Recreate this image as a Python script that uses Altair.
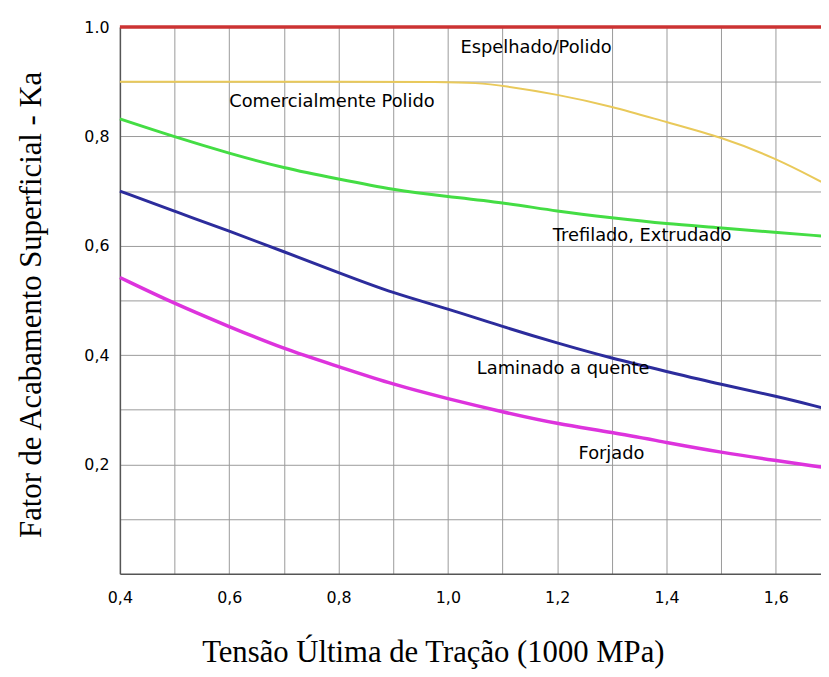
import altair as alt
import pandas as pd

# ---- data ----
series_names = ["Espelhado/Polido", "Comercialmente Polido", "Trefilado, Extrudado",
                "Laminado a quente", "Forjado"]

x_red = [0.4, 1.0, 1.683]
y_red = [1.0, 1.0, 1.0]

x_yellow = [0.4, 0.6, 0.8, 1.0, 1.05, 1.1, 1.2, 1.3, 1.4, 1.5, 1.6, 1.683]
y_yellow = [0.9, 0.9, 0.9, 0.9, 0.898, 0.893, 0.877, 0.855, 0.826, 0.799, 0.76, 0.717]

x_green = [0.4, 0.5, 0.6, 0.7, 0.8, 0.9, 1.0, 1.1, 1.2, 1.3, 1.4, 1.5, 1.6, 1.683]
y_green = [0.832, 0.799, 0.769, 0.742, 0.722, 0.702, 0.690, 0.679, 0.663, 0.651,
           0.640, 0.633, 0.624, 0.618]

x_blue = [0.4, 0.5, 0.6, 0.7, 0.8, 0.9, 1.0, 1.1, 1.2, 1.3, 1.4, 1.5, 1.6, 1.683]
y_blue = [0.700, 0.663, 0.627, 0.589, 0.551, 0.513, 0.485, 0.452, 0.422, 0.394,
          0.370, 0.346, 0.325, 0.304]

x_mag = [0.4, 0.5, 0.6, 0.7, 0.8, 0.9, 1.0, 1.1, 1.2, 1.3, 1.4, 1.5, 1.6, 1.683]
y_mag = [0.542, 0.494, 0.452, 0.411, 0.379, 0.346, 0.320, 0.296, 0.274, 0.259,
         0.240, 0.222, 0.207, 0.195]

colors = ["#cc3333", "#e9c95a", "#44dd44", "#2c2c9c", "#dd33dd"]
widths = [3.5, 2, 3, 3, 3.5]

label_x = [1.023, 0.600, 1.192, 1.053, 1.239]
label_y = [0.962, 0.862, 0.618, 0.3745, 0.219]

x_grid = [0.4, 0.5, 0.6, 0.7, 0.8, 0.9, 1.0, 1.1, 1.2, 1.3, 1.4, 1.5, 1.6]
y_grid = [0.1, 0.2, 0.3, 0.4, 0.5, 0.6, 0.7, 0.8, 0.9, 1.0]

# ---- tables ----
all_x = [x_red, x_yellow, x_green, x_blue, x_mag]
all_y = [y_red, y_yellow, y_green, y_blue, y_mag]
labels_df = pd.DataFrame({"text": series_names, "x": label_x, "y": label_y})

xscale = alt.Scale(domain=[0.4, 1.6826], nice=False, zero=False)
yscale = alt.Scale(domain=[0, 1.0], nice=False, zero=True)

x_axis = alt.Axis(
    values=x_grid,
    labelExpr="round(datum.value*10) % 2 == 0 ? replace(format(datum.value, '.1f'), '.', ',') : ''",
    grid=True, gridColor="#9a9a9a", gridWidth=1, ticks=False,
    domainColor="#555555", domainWidth=1.5,
    labelFont="DejaVu Sans", labelFontSize=16, labelColor="#000000", labelPadding=16,
    labelFlush=False,
    title="Tensão Última de Tração (1000 MPa)",
    titleFont="Liberation Serif", titleFontSize=31, titleFontWeight="normal",
    titleColor="#000000", titleX=316, titleY=80, titleAlign="center",
    titleBaseline="middle", titleAnchor="middle",
)
y_axis = alt.Axis(
    values=y_grid,
    labelExpr="datum.value == 1 ? '1.0' : (round(datum.value*10) % 2 == 0 ? replace(format(datum.value, '.1f'), '.', ',') : '')",
    grid=True, gridColor="#9a9a9a", gridWidth=1, ticks=False,
    domainColor="#555555", domainWidth=1.5,
    labelFont="DejaVu Sans", labelFontSize=16, labelColor="#000000", labelPadding=11,
    labelFlush=False,
    title="Fator de Acabamento Superficial - Ka",
    titleFont="Liberation Serif", titleFontSize=31, titleFontWeight="normal",
    titleColor="#000000", titleX=-89, titleY=280, titleAngle=270,
    titleAlign="center", titleBaseline="middle", titleAnchor="middle",
)

X = alt.X("x:Q", scale=xscale, axis=x_axis)
Y = alt.Y("y:Q", scale=yscale, axis=y_axis)

layers = []
for i, (name, xs, ys) in enumerate(zip(series_names, all_x, all_y)):
    d = pd.DataFrame({"x": xs, "y": ys, "series": name})
    layers.append(
        alt.Chart(d).mark_line(interpolate="basis", color=colors[i],
                               strokeWidth=widths[i]).encode(x=X, y=Y)
    )

texts = alt.Chart(labels_df).mark_text(
    align="left", baseline="middle", font="DejaVu Sans", fontSize=18, color="#000000"
).encode(x=X, y=Y, text="text:N")

chart = alt.layer(*layers, texts).properties(
    width=708, height=552,
    padding={"left": 113, "top": 16, "right": 0, "bottom": 100},
    autosize=alt.AutoSizeParams(type="none"),
    background="#ffffff",
).configure_view(stroke=None)

chart.save("out.html", embed_options={"renderer": "svg", "actions": False})
